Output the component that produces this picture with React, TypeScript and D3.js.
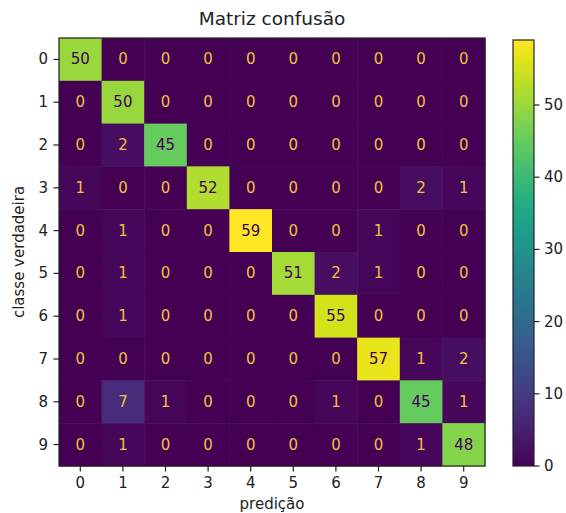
import React from "react";
import * as d3 from "d3";

const labels = ["0", "1", "2", "3", "4", "5", "6", "7", "8", "9"];
const matrix: number[][] = [
  [50, 0, 0, 0, 0, 0, 0, 0, 0, 0],
  [0, 50, 0, 0, 0, 0, 0, 0, 0, 0],
  [0, 2, 45, 0, 0, 0, 0, 0, 0, 0],
  [1, 0, 0, 52, 0, 0, 0, 0, 2, 1],
  [0, 1, 0, 0, 59, 0, 0, 1, 0, 0],
  [0, 1, 0, 0, 0, 51, 2, 1, 0, 0],
  [0, 1, 0, 0, 0, 0, 55, 0, 0, 0],
  [0, 0, 0, 0, 0, 0, 0, 57, 1, 2],
  [0, 7, 1, 0, 0, 0, 1, 0, 45, 1],
  [0, 1, 0, 0, 0, 0, 0, 0, 1, 48],
];
const colorbarTicks = [0, 10, 20, 30, 40, 50];
const title = "Matriz confusão";
const xTitle = "predição";
const yTitle = "classe verdadeira";

const W = 566;
const H = 513;
const M = { left: 59, right: 485, top: 38, bottom: 466 };
const CB = { left: 513, right: 534, top: 40, bottom: 466 };
const FONT = "DejaVu Sans, sans-serif";

export default function App() {
  const flat = matrix.flat();
  const vmin = d3.min(flat) as number;
  const vmax = d3.max(flat) as number;
  const color = d3.scaleSequential(d3.interpolateViridis).domain([vmin, vmax]);
  const x = d3.scaleBand<string>().domain(labels).range([M.left, M.right]);
  const y = d3.scaleBand<string>().domain(labels).range([M.top, M.bottom]);
  const cbY = d3.scaleLinear().domain([vmin, vmax]).range([CB.bottom, CB.top]);
  const thresh = (vmax + vmin) / 2;
  const lowText = "#f0c040";
  const highText = d3.interpolateViridis(0);
  const stops = d3.range(0, 1.0001, 0.05);

  return (
    <svg width={W} height={H} style={{ position: "absolute", left: 0, top: 0, background: "#fff" }}>
      <defs>
        <linearGradient id="cbgrad" x1="0" y1="1" x2="0" y2="0">
          {stops.map((t) => (
            <stop key={t} offset={t} stopColor={d3.interpolateViridis(t)} />
          ))}
        </linearGradient>
      </defs>
      <text x={(M.left + M.right) / 2} y={25} textAnchor="middle" fontFamily={FONT} fontSize={18.5} fill="#222">
        {title}
      </text>
      {matrix.map((row, i) =>
        row.map((v, j) => (
          <rect
            key={`c${i}-${j}`}
            x={x(labels[j])}
            y={y(labels[i])}
            width={x.bandwidth() + 0.5}
            height={y.bandwidth() + 0.5}
            fill={color(v)}
          />
        ))
      )}
      {matrix.map((row, i) =>
        row.map((v, j) => (
          <text
            key={`t${i}-${j}`}
            x={(x(labels[j]) as number) + x.bandwidth() / 2}
            y={(y(labels[i]) as number) + y.bandwidth() / 2}
            textAnchor="middle"
            dominantBaseline="central"
            fontFamily={FONT}
            fontSize={15}
            fill={v < thresh ? lowText : highText}
          >
            {v}
          </text>
        ))
      )}
      <rect x={M.left} y={M.top} width={M.right - M.left} height={M.bottom - M.top} fill="none" stroke="#222" strokeWidth={1.2} />
      {labels.map((l) => {
        const cx = (x(l) as number) + x.bandwidth() / 2;
        return (
          <g key={`xt${l}`}>
            <line x1={cx} x2={cx} y1={M.bottom} y2={M.bottom + 5.5} stroke="#222" strokeWidth={1.2} />
            <text x={cx} y={M.bottom + 11} textAnchor="middle" dominantBaseline="hanging" fontFamily={FONT} fontSize={15} fill="#222">
              {l}
            </text>
          </g>
        );
      })}
      {labels.map((l) => {
        const cy = (y(l) as number) + y.bandwidth() / 2;
        return (
          <g key={`yt${l}`}>
            <line x1={M.left - 5.5} x2={M.left} y1={cy} y2={cy} stroke="#222" strokeWidth={1.2} />
            <text x={M.left - 11} y={cy} textAnchor="end" dominantBaseline="central" fontFamily={FONT} fontSize={15} fill="#222">
              {l}
            </text>
          </g>
        );
      })}
      <text x={(M.left + M.right) / 2} y={509} textAnchor="middle" fontFamily={FONT} fontSize={15} fill="#222">
        {xTitle}
      </text>
      <text
        transform={`translate(24, ${(M.top + M.bottom) / 2}) rotate(-90)`}
        textAnchor="middle"
        fontFamily={FONT}
        fontSize={15}
        fill="#222"
      >
        {yTitle}
      </text>
      <rect x={CB.left} y={CB.top} width={CB.right - CB.left} height={CB.bottom - CB.top} fill="url(#cbgrad)" stroke="#222" strokeWidth={1.2} />
      {colorbarTicks.map((t) => (
        <g key={`cb${t}`}>
          <line x1={CB.right} x2={CB.right + 5.5} y1={cbY(t)} y2={cbY(t)} stroke="#222" strokeWidth={1.2} />
          <text x={CB.right + 10} y={cbY(t)} dominantBaseline="central" fontFamily={FONT} fontSize={15} fill="#222">
            {t}
          </text>
        </g>
      ))}
    </svg>
  );
}
